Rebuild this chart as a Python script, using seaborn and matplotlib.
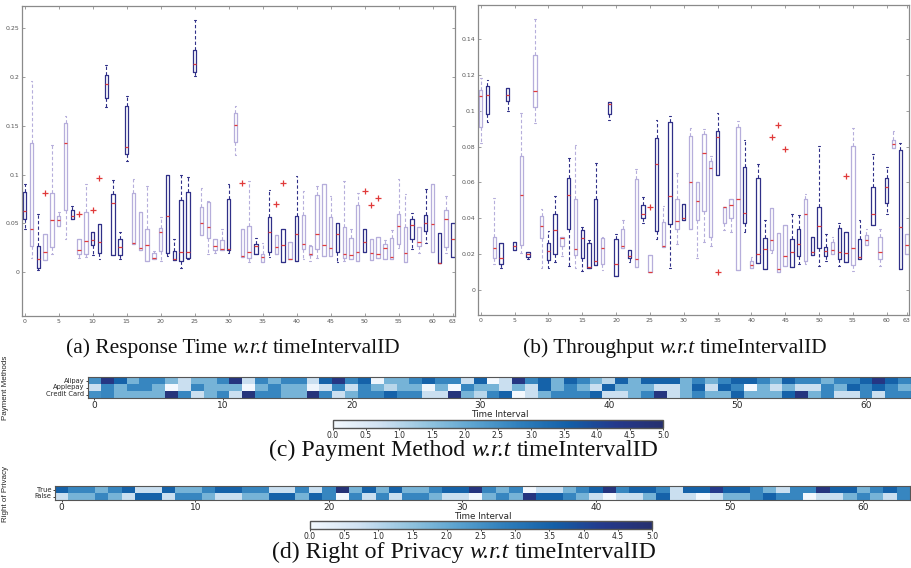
import numpy as np
import pandas as pd
import matplotlib
matplotlib.use("Agg")
import matplotlib.pyplot as plt
from matplotlib.colors import LinearSegmentedColormap
from matplotlib.offsetbox import TextArea, HPacker, AnchoredOffsetbox
import seaborn as sns

# ---------------- data: (a) Response Time boxes (per timeIntervalID 0..63) ----------------
rt_lo = [0.0445, 0.014, 0.002, 0.012, 0.019, 0.047, 0.034, 0.055, 0.015, 0.016,
         0.018, 0.013, 0.169, 0.018, 0.013, 0.114, 0.029, 0.0226, 0.0113, 0.013,
         0.011, 0.0164, 0.0123, 0.0045, 0.013, 0.201, 0.0377, 0.019, 0.020, 0.023,
         0.020, 0.120, 0.0154, 0.0106, 0.0185, 0.0106, 0.0157, 0.019, 0.0106, 0.013,
         0.0113, 0.013, 0.011, 0.014, 0.017, 0.017, 0.0106, 0.011, 0.0137, 0.011,
         0.021, 0.0123, 0.0147, 0.0137, 0.0137, 0.025, 0.0106, 0.024, 0.020, 0.0295,
         0.021, 0.0096, 0.020, 0.0154]
rt_q1 = [0.054, 0.027, 0.0045, 0.012, 0.026, 0.047, 0.064, 0.055, 0.019, 0.019,
         0.028, 0.020, 0.179, 0.018, 0.018, 0.1215, 0.029, 0.0226, 0.0113, 0.013,
         0.0216, 0.020, 0.0123, 0.0113, 0.0147, 0.2055, 0.0377, 0.035, 0.023, 0.023,
         0.023, 0.133, 0.0154, 0.0147, 0.0185, 0.0106, 0.021, 0.019, 0.0106, 0.013,
         0.0113, 0.024, 0.0175, 0.024, 0.017, 0.017, 0.021, 0.0147, 0.0137, 0.011,
         0.021, 0.0123, 0.0147, 0.0137, 0.0137, 0.029, 0.0106, 0.0335, 0.0267, 0.042,
         0.021, 0.0096, 0.026, 0.0154]
rt_med = [0.063, 0.044, 0.0137, 0.021, 0.053, 0.053, 0.132, 0.0575, 0.023, 0.032,
          0.033, 0.031, 0.193, 0.071, 0.026, 0.128, 0.030, 0.025, 0.028, 0.015,
          0.041, 0.058, 0.013, 0.021, 0.021, 0.213, 0.0507, 0.0466, 0.027, 0.024,
          0.024, 0.151, 0.0164, 0.021, 0.0267, 0.0154, 0.041, 0.026, 0.0274, 0.0134,
          0.039, 0.029, 0.0185, 0.039, 0.028, 0.025, 0.039, 0.019, 0.0175, 0.0205,
          0.0305, 0.020, 0.019, 0.025, 0.016, 0.0476, 0.020, 0.048, 0.031, 0.050,
          0.049, 0.0096, 0.055, 0.034]
rt_q3 = [0.082, 0.132, 0.0267, 0.039, 0.081, 0.0575, 0.153, 0.064, 0.0335, 0.062,
         0.041, 0.049, 0.202, 0.0805, 0.0335, 0.170, 0.0815, 0.062, 0.044, 0.020,
         0.0455, 0.0993, 0.022, 0.0736, 0.0825, 0.228, 0.067, 0.072, 0.034, 0.033,
         0.0747, 0.163, 0.044, 0.047, 0.029, 0.019, 0.057, 0.038, 0.044, 0.031,
         0.0575, 0.059, 0.0267, 0.0788, 0.090, 0.057, 0.050, 0.0466, 0.035, 0.069,
         0.044, 0.0335, 0.036, 0.029, 0.0353, 0.060, 0.046, 0.054, 0.0466, 0.059,
         0.090, 0.040, 0.064, 0.0507]
rt_hi = [0.090, 0.196, 0.060, 0.039, 0.130, 0.062, 0.160, 0.068, 0.0335, 0.090,
         0.041, 0.049, 0.212, 0.095, 0.041, 0.181, 0.096, 0.062, 0.088, 0.0215,
         0.057, 0.0993, 0.0335, 0.100, 0.098, 0.259, 0.086, 0.073, 0.034, 0.044,
         0.090, 0.170, 0.044, 0.093, 0.035, 0.030, 0.084, 0.038, 0.044, 0.031,
         0.099, 0.083, 0.028, 0.088, 0.090, 0.078, 0.050, 0.093, 0.044, 0.0815,
         0.044, 0.0335, 0.036, 0.033, 0.043, 0.096, 0.0805, 0.061, 0.0466, 0.0856,
         0.090, 0.040, 0.078, 0.0507]
rt_out_t = [3, 8, 10, 11, 32, 37, 38, 50, 51, 52]
rt_out_v = [0.081, 0.060, 0.064, 0.097, 0.0914, 0.070, 0.091, 0.0835, 0.069, 0.076]

# ---------------- data: (b) Throughput boxes ----------------
tp_lo = [0.082, 0.0937, 0.0143, 0.0125, 0.0998, 0.022, 0.0208, 0.017, 0.093, 0.012,
         0.0125, 0.0158, 0.019, 0.0134, 0.0125, 0.0106, 0.0125, 0.014, 0.011, 0.095,
         0.0078, 0.0236, 0.0158, 0.013, 0.0375, 0.010, 0.0286, 0.024, 0.012, 0.0255,
         0.039, 0.0338, 0.0178, 0.027, 0.0245, 0.064, 0.0333, 0.0325, 0.0112, 0.0325,
         0.0125, 0.0152, 0.0119, 0.0208, 0.0102, 0.0134, 0.013, 0.0147, 0.0143, 0.0195,
         0.0134, 0.0162, 0.0199, 0.0134, 0.0156, 0.0106, 0.0171, 0.0249, 0.0362, 0.0134,
         0.0426, 0.0794, 0.0115, 0.0199]
tp_q1 = [0.091, 0.098, 0.0177, 0.0147, 0.1054, 0.022, 0.025, 0.0184, 0.102, 0.029,
         0.0167, 0.0203, 0.0245, 0.0338, 0.0193, 0.018, 0.0125, 0.014, 0.0147, 0.098,
         0.0078, 0.0236, 0.018, 0.013, 0.0403, 0.010, 0.0329, 0.024, 0.037, 0.0338,
         0.039, 0.0338, 0.0388, 0.0439, 0.0297, 0.064, 0.0375, 0.0403, 0.0112, 0.0375,
         0.0125, 0.0152, 0.0119, 0.0223, 0.0102, 0.0134, 0.013, 0.019, 0.0162, 0.0195,
         0.0236, 0.019, 0.0199, 0.0175, 0.0156, 0.014, 0.0171, 0.0249, 0.0362, 0.0175,
         0.0487, 0.0794, 0.0115, 0.0199]
tp_med = [0.108, 0.109, 0.0236, 0.018, 0.109, 0.0245, 0.0528, 0.020, 0.111, 0.0355,
          0.0217, 0.0333, 0.029, 0.0528, 0.0227, 0.029, 0.0128, 0.016, 0.0236, 0.104,
          0.0143, 0.0245, 0.019, 0.0175, 0.0425, 0.0102, 0.070, 0.0245, 0.0524, 0.0383,
          0.0403, 0.060, 0.0494, 0.0766, 0.0682, 0.0853, 0.046, 0.0476, 0.051, 0.0431,
          0.0138, 0.0199, 0.0227, 0.0279, 0.0119, 0.019, 0.0214, 0.0255, 0.0426, 0.0214,
          0.0357, 0.0217, 0.0223, 0.0214, 0.0208, 0.0234, 0.0186, 0.0279, 0.0426, 0.0214,
          0.0576, 0.0812, 0.0353, 0.0249]
tp_q3 = [0.1115, 0.114, 0.0296, 0.0262, 0.1126, 0.027, 0.075, 0.0214, 0.131, 0.041,
         0.026, 0.0426, 0.0296, 0.0626, 0.0506, 0.0335, 0.0264, 0.0507, 0.0288, 0.105,
         0.0286, 0.0338, 0.0225, 0.062, 0.0472, 0.0197, 0.085, 0.038, 0.0939, 0.0506,
         0.0478, 0.0859, 0.060, 0.0872, 0.0719, 0.0887, 0.0465, 0.0506, 0.091, 0.0688,
         0.0162, 0.0626, 0.0292, 0.0455, 0.032, 0.0362, 0.0283, 0.0338, 0.0506, 0.0296,
         0.0465, 0.0242, 0.027, 0.0348, 0.0325, 0.0803, 0.0286, 0.0309, 0.0576, 0.0297,
         0.0626, 0.0836, 0.0779, 0.0314]
tp_hi = [0.118, 0.117, 0.0513, 0.0262, 0.1126, 0.027, 0.099, 0.0214, 0.151, 0.045,
         0.033, 0.0524, 0.0296, 0.0736, 0.0807, 0.035, 0.028, 0.071, 0.0296, 0.105,
         0.031, 0.039, 0.0225, 0.0677, 0.052, 0.0197, 0.095, 0.0468, 0.097, 0.0654,
         0.0478, 0.0905, 0.060, 0.090, 0.0747, 0.099, 0.0465, 0.0506, 0.094, 0.0836,
         0.0186, 0.070, 0.039, 0.0455, 0.032, 0.0362, 0.0426, 0.0416, 0.0533, 0.0296,
         0.0803, 0.031, 0.0296, 0.0375, 0.0325, 0.0905, 0.0388, 0.0338, 0.076, 0.0338,
         0.0688, 0.0887, 0.0822, 0.0314]
tp_out_t = [25, 35, 43, 44, 45, 54]
tp_out_v = [0.0465, 0.0102, 0.0853, 0.0918, 0.0786, 0.0634]

# box outline shade per interval (1 = dark, 0 = light) -- styling only
rt_dark = [1,0,1,0,0,0,0,1,0,0, 1,1,1,1,1,1,0,0,0,0, 0,1,1,1,1,1,0,0,0,0,
           1,0,0,0,1,0,1,0,1,0, 1,0,0,0,0,0,1,0,0,0, 1,0,0,0,0,0,0,1,0,1,
           0,1,0,1]
tp_dark = [0,1,0,1,1,1,0,1,0,0, 1,1,0,1,0,1,1,1,0,1, 1,0,1,0,1,0,1,0,1,0,
           1,0,0,0,0,1,0,0,0,1, 0,1,1,0,0,0,1,1,0,1, 1,1,0,1,1,0,1,0,1,0,
           1,0,1,0]

rt_yticks = [0, 0.05, 0.1, 0.15, 0.2, 0.25]
rt_yticklabels = ["0", "0.05", "0.1", "0.15", "0.2", "0.25"]
tp_yticks = [0, 0.02, 0.04, 0.06, 0.08, 0.1, 0.12, 0.14]
tp_yticklabels = ["0", "0.02", "0.04", "0.06", "0.08", "0.1", "0.12", "0.14"]
box_xticks = [0, 5, 10, 15, 20, 25, 30, 35, 40, 45, 50, 55, 60, 63]

# ---------------- data: (c) payment methods heatmap ----------------
pay_methods = ["Alipay", "Applepay", "Credit Card"]
pay_alipay = [2.5, 4.5, 3.5, 1.8, 2.7, 2.7, 1.7, 0.8, 1.8, 1.8,
              2.7, 4.6, 0.8, 2.7, 1.8, 2.7, 2.7, 0.8, 3.5, 4.5,
              2.7, 3.5, 0.1, 1.8, 1.8, 2.7, 3.5, 2.7, 2.7, 0.8,
              3.5, 0.0, 0.8, 4.5, 2.7, 3.5, 1.8, 3.5, 2.7, 1.8,
              1.0, 3.5, 1.8, 3.5, 3.5, 3.5, 1.8, 2.7, 1.8, 2.7,
              3.5, 3.5, 2.7, 1.8, 3.5, 2.7, 2.7, 1.8, 2.7, 2.7,
              3.5, 4.5, 3.5, 2.7]
pay_applepay = [0.8, 2.7, 1.8, 2.7, 2.7, 1.8, 0.0, 0.8, 2.7, 1.8,
                1.8, 1.8, 0.0, 1.8, 2.7, 1.8, 1.8, 0.1, 0.8, 2.7,
                0.8, 2.7, 1.8, 1.0, 1.8, 1.8, 0.1, 1.8, 0.0, 2.7,
                1.8, 1.8, 0.8, 1.8, 0.8, 3.5, 1.8, 2.7, 1.8, 0.8,
                3.5, 1.8, 1.8, 1.8, 0.8, 0.8, 1.8, 3.5, 0.8, 3.5,
                2.7, 0.0, 1.8, 0.8, 1.8, 0.8, 0.8, 2.7, 1.8, 3.5,
                2.7, 3.5, 2.7, 1.8]
pay_credit = [2.5, 2.7, 1.8, 1.8, 1.8, 1.8, 4.7, 2.7, 0.8, 1.8,
              2.7, 0.8, 4.7, 2.7, 2.7, 1.8, 1.8, 4.7, 2.7, 0.8,
              1.8, 2.7, 2.7, 3.5, 2.7, 2.7, 0.8, 0.8, 4.7, 1.8,
              1.0, 2.7, 3.5, 0.0, 0.8, 1.8, 2.7, 2.7, 2.7, 3.5,
              0.8, 0.8, 1.8, 2.7, 4.6, 0.8, 1.8, 2.7, 1.8, 1.8,
              3.5, 1.8, 1.8, 1.8, 3.5, 4.6, 1.8, 2.7, 0.8, 0.8,
              2.7, 0.8, 2.7, 2.7]

# ---------------- data: (d) right of privacy heatmap ----------------
priv_labels = ["True", "False"]
priv_true = [3.5, 2.7, 2.7, 1.8, 2.7, 3.5, 0.8, 0.8, 3.5, 1.8,
             1.8, 2.7, 3.5, 3.5, 2.7, 2.7, 0.8, 0.8, 2.7, 0.8,
             2.7, 4.8, 1.8, 3.5, 1.8, 3.5, 1.8, 1.8, 2.7, 3.5,
             3.5, 4.6, 2.7, 1.8, 2.7, 0.0, 0.8, 0.8, 1.8, 2.7,
             3.5, 4.6, 2.7, 3.5, 3.5, 2.7, 0.8, 3.5, 3.5, 4.3,
             3.5, 3.5, 2.7, 1.8, 0.8, 2.7, 2.7, 4.6, 3.5, 3.5,
             1.8, 2.7, 3.5, 2.7]
priv_false = [0.8, 1.8, 1.8, 2.7, 1.8, 0.8, 3.5, 3.5, 0.8, 2.7,
              2.7, 1.8, 0.8, 0.8, 1.8, 1.8, 3.5, 3.5, 1.8, 3.5,
              2.7, 0.0, 2.7, 0.8, 2.7, 0.8, 2.7, 2.7, 1.8, 0.8,
              0.8, 0.0, 1.8, 2.7, 1.8, 4.6, 3.5, 3.5, 2.7, 1.8,
              0.8, 0.0, 0.8, 0.8, 1.8, 3.5, 0.8, 0.8, 0.0, 0.8,
              1.8, 1.8, 2.7, 3.5, 2.7, 2.7, 0.0, 0.8, 0.8, 1.8,
              2.7, 1.8, 0.8, 2.7]
heat_xticks = [0, 10, 20, 30, 40, 50, 60]
cbar_ticks = [0.0, 0.5, 1.0, 1.5, 2.0, 2.5, 3.0, 3.5, 4.0, 4.5, 5.0]

captions = [
    ("(a) Response Time", "w.r.t", "timeIntervalID"),
    ("(b) Throughput", "w.r.t", "timeIntervalID"),
    ("(c) Payment Method", "w.r.t", "timeIntervalID"),
    ("(d) Right of Privacy", "w.r.t", "timeIntervalID"),
]

# ---------------- styling ----------------
sns.set_theme(style="white")
plt.rcParams["font.family"] = ["DejaVu Sans"]

DARK = "#303088"
LIGHT = "#b6aedb"
MED_RED = "#e03a3a"
W, H = 912, 568

_bl = plt.get_cmap("Blues")
HEAT_CMAP = LinearSegmentedColormap.from_list(
    "blues_navy", [_bl(0.02), _bl(0.2), _bl(0.4), _bl(0.55), _bl(0.7), _bl(0.82), "#24398c", "#26306f"])


def frac(x0, y0, x1, y1):
    """pixel box (top-left origin) -> figure fraction rect"""
    return [x0 / W, 1 - y1 / H, (x1 - x0) / W, (y1 - y0) / H]


def long_frame(lo, q1, med, q3, hi):
    rows = []
    for t in range(len(lo)):
        for v in (lo[t], q1[t], med[t], q3[t], hi[t]):
            rows.append((t, str(t), v))
    return pd.DataFrame(rows, columns=["t", "tid", "v"])


def box_panel(ax, df, dark, out_t, out_v, ylim, yticks, yticklabels):
    pal = {str(t): (DARK if d else LIGHT) for t, d in enumerate(dark)}
    sns.boxplot(data=df, x="t", y="v", hue="tid", hue_order=[str(t) for t in range(len(dark))],
                palette=pal, fill=False, whis=(0, 100), width=0.5, native_scale=True,
                dodge=False, legend=False, linewidth=0.9,
                medianprops=dict(color=MED_RED, linewidth=0.9),
                whiskerprops=dict(linestyle=(0, (3, 2)), linewidth=0.8),
                capprops=dict(linewidth=0.8),
                ax=ax)
    sns.scatterplot(x=out_t, y=out_v, marker="+", color=MED_RED, s=22, linewidth=0.9,
                    legend=False, ax=ax)
    ax.set_xlim(-0.4, 63.3)
    ax.set_ylim(*ylim)
    ax.set_xticks(box_xticks)
    ax.set_xticklabels([str(t) for t in box_xticks])
    ax.set_yticks(yticks)
    ax.set_yticklabels(yticklabels)
    ax.set_xlabel("")
    ax.set_ylabel("")
    ax.tick_params(axis="both", direction="in", length=2.5, width=0.5, labelsize=4.5,
                   labelcolor="#555555", color="#777777", pad=2,
                   top=True, right=True, bottom=True, left=True)
    for s in ax.spines.values():
        s.set_color("#8a8a8a")
        s.set_linewidth(0.9)


fig = plt.figure(figsize=(9.12, 5.68), dpi=100)

ax_a = fig.add_axes(frac(22, 6, 455, 316))
ax_b = fig.add_axes(frac(478, 5, 909, 315))
box_panel(ax_a, long_frame(rt_lo, rt_q1, rt_med, rt_q3, rt_hi), rt_dark, rt_out_t, rt_out_v,
          (-0.045, 0.273), rt_yticks, rt_yticklabels)
box_panel(ax_b, long_frame(tp_lo, tp_q1, tp_med, tp_q3, tp_hi), tp_dark, tp_out_t, tp_out_v,
          (-0.014, 0.159), tp_yticks, tp_yticklabels)


def heat_panel(ax, cax, values, ylabels):
    sns.heatmap(np.array(values), ax=ax, cmap=HEAT_CMAP, vmin=0, vmax=5, cbar_ax=cax,
                cbar_kws=dict(orientation="horizontal", ticks=cbar_ticks),
                xticklabels=False, yticklabels=ylabels, linewidths=0)
    ax.set_xticks(np.array(heat_xticks) + 0.5)
    ax.set_xticklabels([str(t) for t in heat_xticks], rotation=0)
    ax.set_yticklabels(ylabels, rotation=0)
    ax.tick_params(axis="x", length=1.5, width=0.6, labelsize=6.5, pad=0.5,
                   bottom=True, color="#222222")
    ax.tick_params(axis="y", length=1.5, width=0.6, labelsize=4.9, pad=1,
                   left=True, color="#222222")
    ax.set_xlabel("Time Interval", fontsize=6.3, labelpad=0)
    for s in ax.spines.values():
        s.set_visible(True)
        s.set_color("#555555")
        s.set_linewidth(0.8)
    cax.tick_params(labelsize=5.5, length=1.5, width=0.6, pad=0.5)
    cax.xaxis.set_major_formatter(matplotlib.ticker.FormatStrFormatter("%.1f"))
    cb = ax.collections[0].colorbar
    cb.outline.set_edgecolor("#555555")
    cb.outline.set_linewidth(1.0)


ax_c = fig.add_axes(frac(88, 377, 911, 398))
cax_c = fig.add_axes(frac(333, 420, 663, 428))
heat_panel(ax_c, cax_c, [pay_alipay, pay_applepay, pay_credit], pay_methods)

ax_d = fig.add_axes(frac(55, 486, 910, 500))
cax_d = fig.add_axes(frac(310, 521, 652, 529))
heat_panel(ax_d, cax_d, [priv_true, priv_false], priv_labels)

side_font = ["Liberation Sans Narrow", "Liberation Sans"]
fig.text(6 / W, 1 - 388 / H, "Payment Methods", rotation=90, ha="center", va="center",
         fontsize=5.8, family=side_font)
fig.text(6 / W, 1 - 494 / H, "Right of Privacy", rotation=90, ha="center", va="center",
         fontsize=5.8, family=side_font)

cap_specs = [(233, 348, 15.4), (675, 348, 15.4), (464, 450, 17.2), (464, 552, 17.2)]
for (cx, cy, fs), (pre, ital, post) in zip(cap_specs, captions):
    cap_props = dict(family="Liberation Serif", size=fs, color="#111111")
    parts = [TextArea(pre, textprops=cap_props),
             TextArea(ital, textprops={**cap_props, "style": "italic"}),
             TextArea(post, textprops=cap_props)]
    pack = HPacker(children=parts, align="baseline", pad=0, sep=fs * 0.25)
    anchored = AnchoredOffsetbox(loc="center", child=pack, pad=0, borderpad=0, frameon=False,
                                 bbox_to_anchor=(cx / W, 1 - cy / H),
                                 bbox_transform=fig.transFigure)
    fig.add_artist(anchored)

fig.savefig("out.png", dpi=100)
